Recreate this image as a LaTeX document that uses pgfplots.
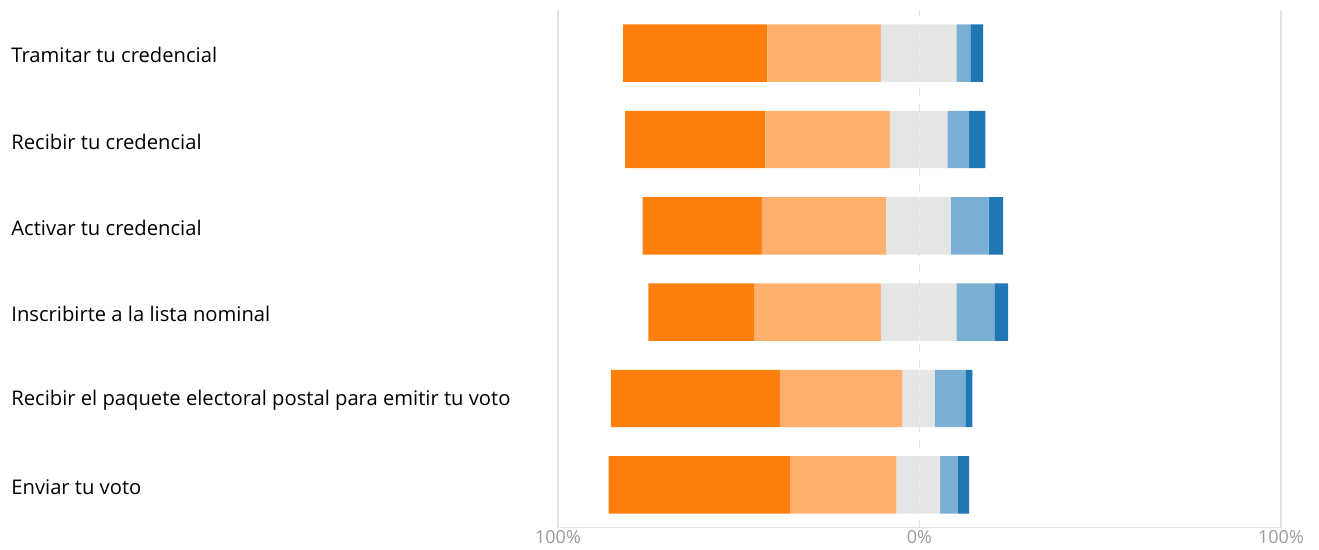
\documentclass[border=0pt]{standalone}
\usepackage{fontspec}
\setmainfont{Open Sans}
\usepackage{pgfplots}
\usepackage{pgfplotstable}
\pgfplotsset{compat=1.18}

\definecolor{dorange}{HTML}{FF7F0E}
\definecolor{lorange}{HTML}{FFB06E}
\definecolor{neutral}{HTML}{E5E5E5}
\definecolor{lblue}{HTML}{7BAED3}
\definecolor{dblue}{HTML}{1F77B4}
\definecolor{gridc}{HTML}{E3E3E3}
\definecolor{tickc}{HTML}{9A9A9A}

% y: 6 = top row; negative side stacked from 0 leftwards, positive side from 0 rightwards
\pgfplotstableread{
y    nl     l      d      nr    lb    db
6  -10.7  -31.4  -39.9  10.2  3.9   3.5
5   -8.2  -34.4  -38.8   7.7  6.0   4.5
4   -9.2  -34.4  -33.0   8.7  10.4  4.0
3  -10.7  -34.9  -29.4  10.2  10.5  3.8
2   -4.7  -33.9  -46.8   4.2  8.5   1.9
1   -6.3  -29.5  -50.2   5.7  4.9   3.1
}\likert

\pgfplotsset{
  likertaxis/.style={
    width=361.5pt, height=259pt, scale only axis,
    at={(279pt,11pt)}, anchor=south west,
    xmin=-100, xmax=100, ymin=0.5, ymax=6.5,
    xbar stacked, bar width=0.665,
  },
}

\begin{document}
\begin{tikzpicture}
\useasboundingbox (0,0) rectangle (659.5pt,275pt);
\begin{axis}[likertaxis,
  axis line style={draw=none},
  xtick={-100,100}, xticklabels={100\%,100\%},
  extra x ticks={0}, extra x tick labels={0\%},
  extra x tick style={grid style={gridc, dash pattern=on 4pt off 4pt, line width=0.7pt}},
  xmajorgrids, grid style={gridc, line width=0.6pt},
  major tick length=0pt,
  xticklabel style={font=\fontsize{9}{10}\selectfont, text=tickc, inner sep=1pt},
  /pgf/number format/assume math mode=true,
  ytick={1,...,6},
  yticklabels={Enviar tu voto,
    Recibir el paquete electoral postal para emitir tu voto,
    Inscribirte a la lista nominal,
    Activar tu credencial,
    Recibir tu credencial,
    Tramitar tu credencial},
  yticklabel style={anchor=west, xshift=-273.5pt, yshift=-1pt, inner xsep=0pt,
    font=\fontsize{10.1}{12}\selectfont, text=black},
]
\draw[gridc, line width=0.6pt] (rel axis cs:0,0) -- (rel axis cs:1,0);
\addplot[fill=neutral, draw=none] table[x=nl, y=y] {\likert};
\addplot[fill=lorange, draw=none] table[x=l, y=y] {\likert};
\addplot[fill=dorange, draw=none] table[x=d, y=y] {\likert};
\end{axis}
\begin{axis}[likertaxis, hide axis]
\addplot[fill=neutral, draw=none] table[x=nr, y=y] {\likert};
\addplot[fill=lblue, draw=none] table[x=lb, y=y] {\likert};
\addplot[fill=dblue, draw=none] table[x=db, y=y] {\likert};
\end{axis}
\end{tikzpicture}
\end{document}
